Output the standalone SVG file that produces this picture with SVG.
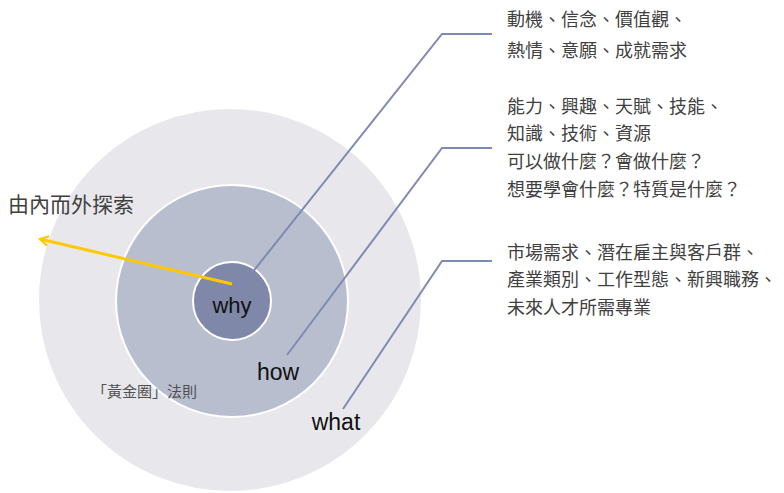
<svg xmlns="http://www.w3.org/2000/svg" width="784" height="493" viewBox="0 0 784 493">
<style>
.ring{stroke:#ffffff;stroke-width:2}
.lead{fill:none;stroke:#7F8AB4;stroke-width:2}
.lab{font-family:"Liberation Sans",Arial,sans-serif;font-size:23px;fill:#111111}
.cjk{font-family:"Noto Sans CJK TC","Noto Sans CJK SC",sans-serif;fill:#404040}
.desc{font-size:18px}
</style>
<defs>
<marker id="ah" viewBox="0 0 10 10" refX="8" refY="5" markerWidth="4" markerHeight="4" orient="auto" markerUnits="strokeWidth">
<path d="M1,1 L8,5 L1,9" fill="none" stroke="#FFC800" stroke-width="1.8"/>
</marker>
</defs>
<rect width="784" height="493" fill="#ffffff"/>
<g id="what">
<circle class="ring" cx="230" cy="300" r="192" fill="#E8E8EC"/>
<text class="lab" x="336" y="430" text-anchor="middle">what</text>
</g>
<g id="how">
<circle class="ring" cx="232" cy="301" r="116" fill="#B9BECF"/>
<text class="lab" x="278" y="380" text-anchor="middle">how</text>
</g>
<g id="why">
<circle class="ring" cx="232" cy="301" r="39" fill="#7F88A8"/>
<text class="lab" x="232" y="313" text-anchor="middle" style="font-size:22px">why</text>
</g>
<g id="connectors">
<polyline class="lead" points="236,293 442,34 492,34"/>
<polyline class="lead" points="287,355 442,148 492,148"/>
<polyline class="lead" points="343,409 442,261 492,261"/>
<line x1="232" y1="284" x2="40" y2="239" stroke="#FFC800" stroke-width="3" marker-end="url(#ah)"/>
</g>
<g id="title">
<text class="cjk" x="8" y="212" style="font-size:21px">由內而外探索</text>
</g>
<g id="golden">
<text class="cjk" x="92" y="397" style="font-size:15px;fill:#505050">「黃金圈」法則</text>
</g>
<g id="why-desc" class="cjk desc">
<text x="507" y="26">動機、信念、價值觀、</text>
<text x="507" y="57">熱情、意願、成就需求</text>
</g>
<g id="how-desc" class="cjk desc">
<text x="507" y="113">能力、興趣、天賦、技能、</text>
<text x="507" y="140">知識、技術、資源</text>
<text x="507" y="168">可以做什麼？會做什麼？</text>
<text x="507" y="196">想要學會什麼？特質是什麼？</text>
</g>
<g id="what-desc" class="cjk desc">
<text x="507" y="259">市場需求、潛在雇主與客戶群、</text>
<text x="507" y="286">產業類別、工作型態、新興職務、</text>
<text x="507" y="314">未來人才所需專業</text>
</g>
</svg>
